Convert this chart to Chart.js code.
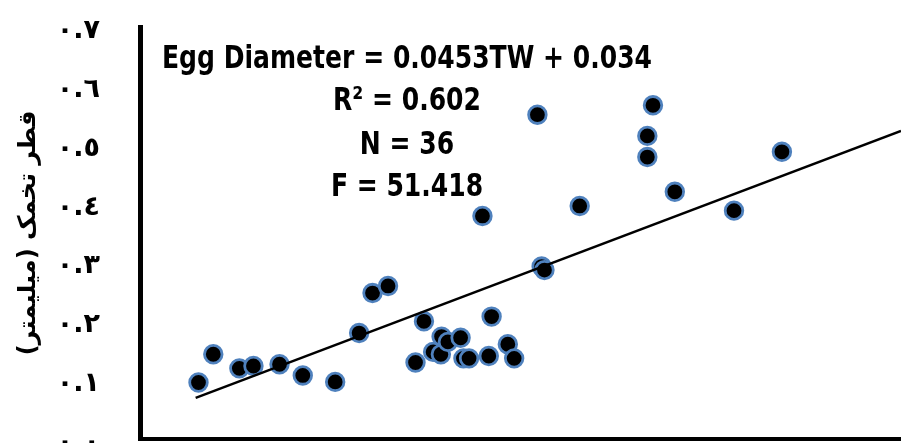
<!DOCTYPE html>
<html>
<head>
<meta charset="utf-8">
<style>
  html, body { margin: 0; padding: 0; background: #fff; }
  #wrap { width: 901px; height: 443px; }
</style>
</head>
<body>
<div id="wrap"><canvas id="chartEgg" width="901" height="443"></canvas></div>
<script src="https://cdn.jsdelivr.net/npm/chart.js@4.4.1/dist/chart.umd.min.js"></script>
<script>
// testis weight (x) and egg diameter (y)
const tw = [0.83, 1.04, 1.41, 1.61, 1.98, 2.31, 2.77, 3.11, 3.30, 3.52,
            4.03, 3.91, 4.16, 4.27, 4.28, 4.37, 4.55, 4.59, 4.67, 4.95,
            4.99, 5.22, 5.31, 4.86, 5.64, 5.70, 5.74, 6.24, 7.28, 7.20,
            7.20, 7.59, 8.43, 9.11];
const eggDiameter = [0.096, 0.144, 0.120, 0.124, 0.127, 0.108, 0.097, 0.180, 0.248, 0.260,
                     0.200, 0.130, 0.148, 0.144, 0.174, 0.165, 0.172, 0.137, 0.137, 0.141,
                     0.208, 0.161, 0.137, 0.379, 0.551, 0.293, 0.287, 0.396, 0.567, 0.515,
                     0.479, 0.420, 0.388, 0.488];

// fitted line as given on the chart
const slope = 0.0453;
const intercept = 0.034;
const trendFrom = 0.79;
const trendTo = 10.8;

const yTickLabels = ['٠.٠', '٠.١', '٠.٢', '٠.٣', '٠.٤', '٠.٥', '٠.٦', '٠.٧'];
const yTitle = 'قطر تخمک (میلیمتر)';
const statLines = ['Egg Diameter = 0.0453TW + 0.034', 'R² = 0.602', 'N = 36', 'F = 51.418'];

const points = tw.map((x, i) => ({ x: x, y: eggDiameter[i] }));
const trend = [trendFrom, trendTo].map(x => ({ x: x, y: intercept + slope * x }));

// equation / stats block, squeezed a bit to look like a narrow font
const statsBox = {
    id: 'statsBox',
    afterDraw(chart) {
        const ctx = chart.ctx;
        ctx.save();
        ctx.fillStyle = '#000';
        ctx.textAlign = 'center';
        ctx.textBaseline = 'middle';
        ctx.font = 'bold 32px "Liberation Sans Narrow", "DejaVu Sans Condensed", "Liberation Sans", sans-serif';
        const squeeze = 490 / ctx.measureText(statLines[0]).width;
        const lineY = [60, 102, 146, 188];
        ctx.translate(407, 0);
        ctx.scale(Math.min(squeeze, 1), 1);
        statLines.forEach((t, i) => {
            ctx.fillText(t, 0, lineY[i]);
        });
        ctx.restore();
    }
};

new Chart(document.getElementById('chartEgg'), {
    type: 'scatter',
    data: {
        datasets: [
            {
                type: 'line',
                label: 'Trend',
                data: trend,
                borderColor: '#000',
                borderWidth: 2.5,
                pointRadius: 0,
                fill: false
            },
            {
                label: 'Egg diameter',
                data: points,
                backgroundColor: '#000',
                borderColor: '#4f81bd',
                borderWidth: 2.8,
                pointRadius: 8.8,
                pointHoverRadius: 8.8
            }
        ]
    },
    options: {
        responsive: false,
        animation: false,
        layout: {
            autoPadding: false,
            padding: { top: 27, right: 0, bottom: 4, left: 0 }
        },
        plugins: {
            legend: { display: false },
            tooltip: { enabled: false }
        },
        scales: {
            x: {
                type: 'linear',
                min: 0,
                max: 10.8,
                grid: { display: false },
                ticks: { display: false },
                border: { display: true, color: '#000', width: 4 },
                afterFit(scale) {
                    scale.height = 0;
                    scale.paddingLeft = 0;
                    scale.paddingRight = 0;
                }
            },
            y: {
                min: 0,
                max: 0.7,
                grid: { display: false },
                border: { display: true, color: '#000', width: 5 },
                ticks: {
                    stepSize: 0.1,
                    color: '#000',
                    padding: 32,
                    labelOffset: 4,
                    font: { family: '"DejaVu Sans"', size: 27, weight: 'bold' },
                    callback: (v, i) => yTickLabels[i]
                },
                title: {
                    display: true,
                    text: yTitle,
                    color: '#000',
                    font: { family: '"DejaVu Sans"', size: 24, weight: 'bold' },
                    padding: { top: 14, bottom: 0 }
                },
                afterFit(scale) {
                    scale.width = 140;
                    scale.paddingTop = 0;
                    scale.paddingBottom = 0;
                }
            }
        }
    },
    plugins: [statsBox]
});
</script>
</body>
</html>
